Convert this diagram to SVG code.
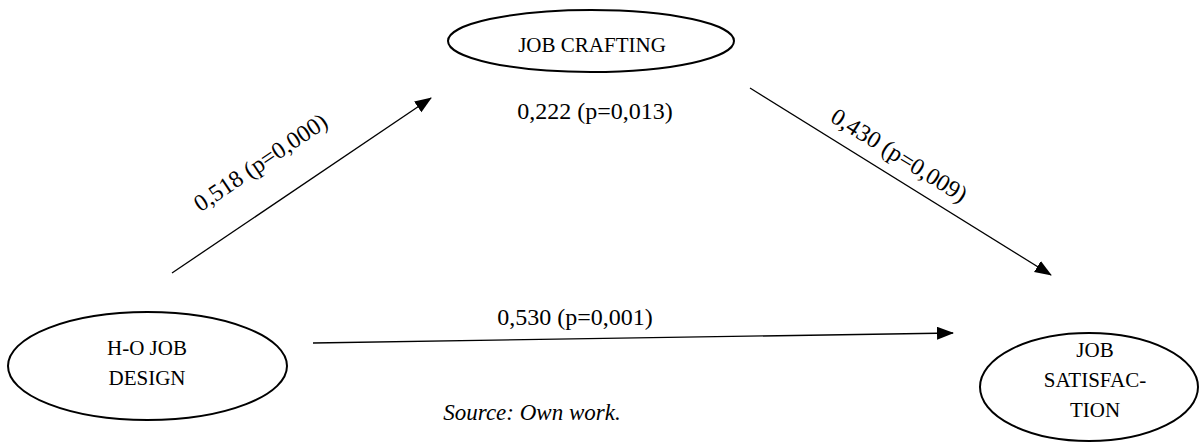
<svg xmlns="http://www.w3.org/2000/svg" width="1203" height="445" viewBox="0 0 1203 445">
<style>
.node{fill:#fff;stroke:#000;stroke-width:2}
.nt{font-family:"Liberation Serif","Times New Roman",serif;font-size:21px;fill:#000;text-anchor:middle}
.lbl{font-family:"Liberation Serif","Times New Roman",serif;font-size:24px;fill:#000;text-anchor:middle}
.edge{stroke:#000;stroke-width:1.3;fill:none}
</style>
<defs>
<marker id="ah" markerUnits="userSpaceOnUse" markerWidth="18" markerHeight="14" refX="16" refY="6.5" orient="auto">
<path d="M0,0 L17,6.5 L0,13 z" fill="#000"/>
</marker>
</defs>
<rect width="1203" height="445" fill="#fff"/>
<g id="connectors">
<line class="edge" x1="172" y1="273" x2="431" y2="98" marker-end="url(#ah)"/>
<line class="edge" x1="750" y1="88" x2="1051" y2="275" marker-end="url(#ah)"/>
<line class="edge" x1="313" y1="343" x2="953" y2="333" marker-end="url(#ah)"/>
</g>
<g id="labels">
<text class="lbl" transform="rotate(-34 265 169)" x="265" y="169">0,518 (p=0,000)</text>
<text class="lbl" transform="rotate(32 895 162)" x="895" y="162">0,430 (p=0,009)</text>
<text class="lbl" x="595" y="119">0,222 (p=0,013)</text>
<text class="lbl" x="575" y="325">0,530 (p=0,001)</text>
</g>
<g id="job-crafting">
<ellipse class="node" cx="591" cy="41" rx="143" ry="31"/>
<text class="nt" x="592" y="52">JOB CRAFTING</text>
</g>
<g id="ho-job-design">
<ellipse class="node" cx="147.5" cy="366" rx="139.5" ry="54"/>
<text class="nt" x="147" y="355">H-O JOB</text>
<text class="nt" x="147" y="385">DESIGN</text>
</g>
<g id="job-satisfaction">
<ellipse class="node" cx="1089" cy="387" rx="109" ry="54"/>
<text class="nt" x="1095" y="357">JOB</text>
<text class="nt" x="1095" y="387">SATISFAC-</text>
<text class="nt" x="1095" y="417">TION</text>
</g>
<text x="532" y="420" font-family="Liberation Serif,Times New Roman,serif" font-style="italic" font-size="23" text-anchor="middle">Source: Own work.</text>
</svg>
